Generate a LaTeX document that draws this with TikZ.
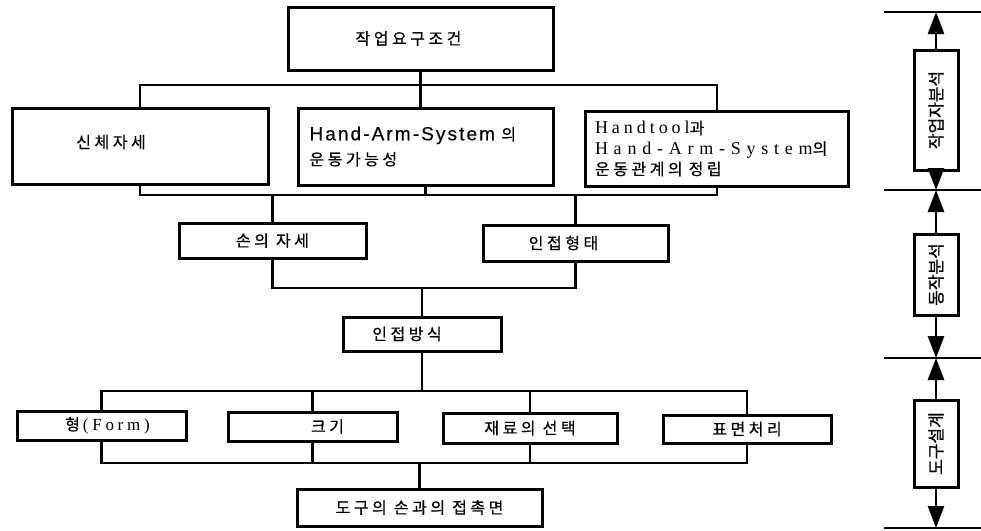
\documentclass[tikz,border=0pt]{standalone}
\usepackage{fontspec}
\setmainfont{Liberation Serif}
\newfontfamily\krf[LetterSpace=22,FakeBold=0.6]{Noto Sans CJK KR}
\newfontfamily\krv[FakeBold=0.8]{Noto Sans CJK KR}
\newfontfamily\sansf[LetterSpace=11,FakeBold=0.4]{Liberation Sans}
\newfontfamily\serf[LetterSpace=22]{Liberation Serif}
\newfontfamily\serw[LetterSpace=32]{Liberation Serif}
\usetikzlibrary{arrows.meta}
\newcommand\kt[1]{{\krf\fontsize{16}{20}\selectfont #1}}
\begin{document}
\begin{tikzpicture}[x=1pt,y=-1pt,
  box/.style={draw, line width=3pt, inner sep=0pt, font=\fontsize{16}{20}\selectfont},
  wire/.style={line width=2.7pt},
  tip/.style={wire, -{Triangle[length=22pt,width=16pt]}},
  side/.style={draw, line width=3pt, inner sep=0pt, minimum width=44pt, font=\krv\fontsize{17}{17}\selectfont}
]
\useasboundingbox (0,0) rectangle (981,530);
% row 1
\node[box, minimum width=265pt, minimum height=63pt] (req) at (420.5,38.5) {\kt{작업요구조건}\hspace*{24pt}};
% row 2
\node[box, minimum width=256pt, minimum height=76pt] (body) at (140,146) {\raisebox{9pt}{\kt{신체자세}}\hspace*{58pt}};
\node[box, minimum width=255pt, minimum height=77pt, text width=232pt, align=left, font=\fontsize{19}{25}\selectfont] (ham) at (425.5,146.5)
  {{\sansf Hand-Arm-System}\kt{ 의}\\\kt{운동가능성}};
\node[box, minimum width=263pt, minimum height=75pt, text width=244pt, align=left, font=\fontsize{18}{20.5}\selectfont] (htl) at (717,148.5)
  {{\serf Handtool}\kt{과}\\{\serw Hand-Arm-System}\kt{의}\\\kt{운동관계의 정립}};
% row 3
\node[box, minimum width=187pt, minimum height=35pt] (hand) at (272.5,240.5) {\kt{손의 자세}};
\node[box, minimum width=185pt, minimum height=36pt] (grip) at (575.5,243) {\kt{인접형태}\hspace*{24pt}};
\node[box, minimum width=158pt, minimum height=34pt] (method) at (422,334) {\kt{인접방식}\hspace*{30pt}};
% row 4
\node[box, minimum width=169pt, minimum height=29pt] (form) at (101.5,425.5) {\hspace*{12pt}\kt{형}\hspace*{3pt}{\serf\fontsize{17}{20}\selectfont(Form)}};
\node[box, minimum width=169pt, minimum height=29pt] (size) at (312.5,426.5) {\hspace*{30pt}\kt{크기}};
\node[box, minimum width=174pt, minimum height=30pt] (mat) at (530,428) {\kt{재료의 선택}};
\node[box, minimum width=168pt, minimum height=28pt] (surf) at (747,429) {\kt{표면처리}};
\node[box, minimum width=245pt, minimum height=37pt] (contact) at (419.5,507.5) {\kt{도구의 손과의 접촉면}};
% buses
\coordinate (b1) at (0,85);
\coordinate (b2) at (0,195);
\coordinate (b3) at (0,288);
\coordinate (b4) at (0,391);
\coordinate (b5) at (0,463);
\draw[wire] (req.south) -- (req.south |- ham.north);
\draw[wire] (body.north) -- (body.north |- b1) -| (htl.north);
\draw[wire] (body.south) -- (body.south |- b2) -| (htl.south);
\draw[wire] (ham.south) -- (ham.south |- b2);
\draw[wire] (hand.north) -- (hand.north |- b2);
\draw[wire] (grip.north) -- (grip.north |- b2);
\draw[wire] (hand.south) -- (hand.south |- b3) -| (grip.south);
\draw[wire] (method.north) -- (method.north |- b3);
\draw[wire] (method.south) -- (method.south |- b4);
\draw[wire] (form.north) -- (form.north |- b4) -| (surf.north);
\draw[wire] (size.north) -- (size.north |- b4);
\draw[wire] (mat.north) -- (mat.north |- b4);
\draw[wire] (form.south) -- (form.south |- b5) -| (surf.south);
\draw[wire] (size.south) -- (size.south |- b5);
\draw[wire] (mat.south) -- (mat.south |- b5);
\draw[wire] (contact.north) -- (contact.north |- b5);
% right scale
\coordinate (l1a) at (884,12);  \coordinate (l1b) at (981,12);
\coordinate (l2a) at (884,190); \coordinate (l2b) at (981,190);
\coordinate (l3a) at (884,358); \coordinate (l3b) at (981,358);
\coordinate (l4a) at (884,528); \coordinate (l4b) at (981,528);
\draw[wire] (l1a) -- (l1b);
\draw[wire] (l2a) -- (l2b);
\draw[wire] (l3a) -- (l3b);
\draw[wire] (l4a) -- (l4b);
\coordinate (t1) at (936,12);
\coordinate (t2) at (936,190);
\coordinate (t3) at (936,358);
\coordinate (t4) at (936,528);
\node[side, minimum height=120pt] (s1) at (936,110) {\rotatebox{90}{작업자분석}};
\node[side, minimum height=81pt] (s2) at (936,274.5) {\rotatebox{90}{동작분석}};
\node[side, minimum height=87pt] (s3) at (936,443.5) {\rotatebox{90}{도구설계}};
\draw[tip] (s1.north) -- (t1);
\draw[tip] (s1.south) -- (t2);
\draw[tip] (s2.north) -- (t2);
\draw[tip] (s2.south) -- (t3);
\draw[tip] (s3.north) -- (t3);
\draw[tip] (s3.south) -- (t4);
\end{tikzpicture}
\end{document}
